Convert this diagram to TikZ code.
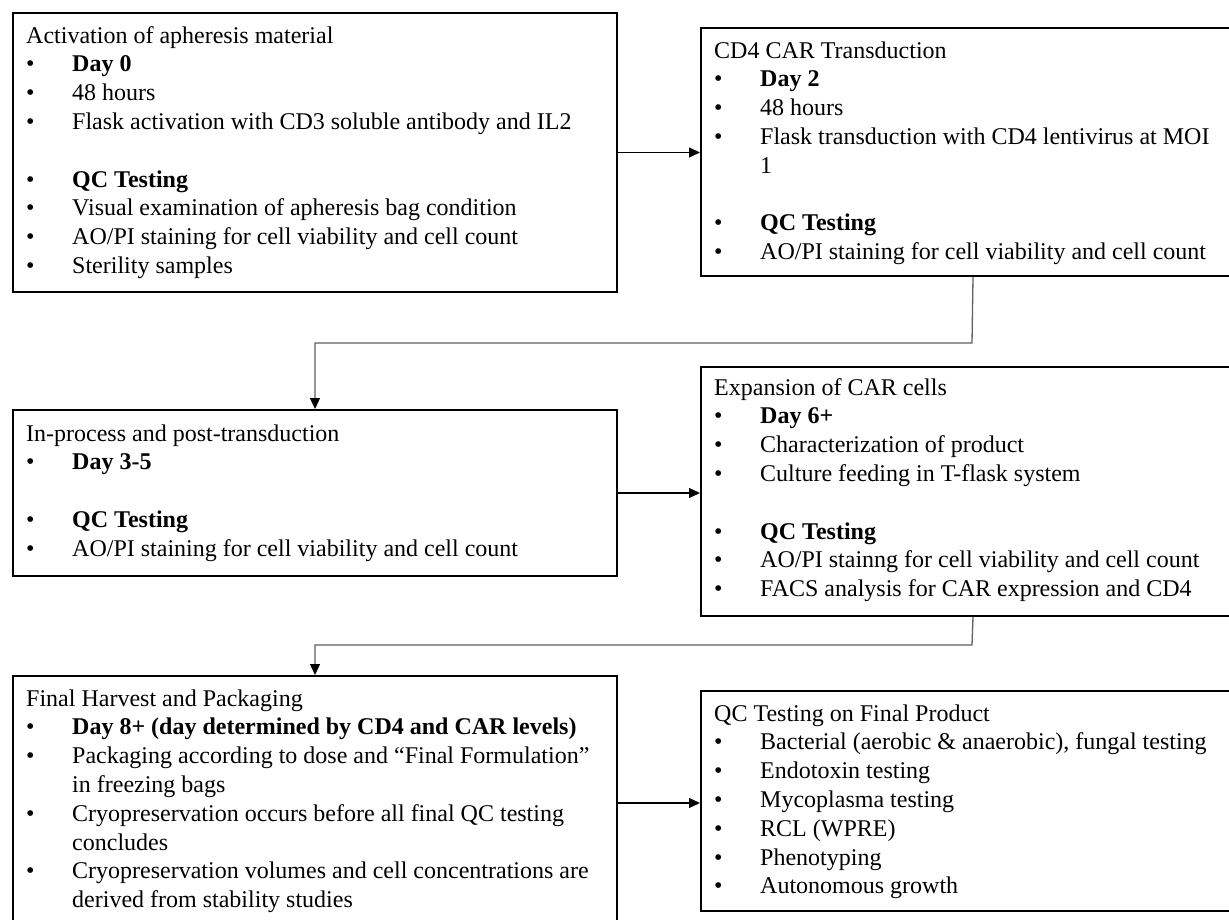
\documentclass[tikz,border=0pt]{standalone}
\usepackage{fontspec}
\setmainfont{Liberation Serif}
\usetikzlibrary{arrows.meta}
\newcommand{\bitem}[1]{\makebox[46pt][l]{\textbullet}#1\strut}
\newcommand{\citem}[1]{\hspace*{46pt}#1\strut}
\newcommand{\ttl}[1]{#1\strut}
\begin{document}
\begin{tikzpicture}[x=1pt,y=-1pt,
  box/.style={draw=black, line width=2pt, rectangle, inner sep=0pt, anchor=north west},
  txt/.style={anchor=north west, inner sep=0pt, align=left, font=\fontsize{24}{28.8}\selectfont},
  arr/.style={draw=black, line width=1.3pt, -{Triangle[length=11pt,width=10pt]}},
  garr/.style={draw=gray!75!black, line width=1.3pt, -{Triangle[length=11pt,width=10pt,color=black]}}]
\fill[white] (0,0) rectangle (1229,920);
\useasboundingbox (0,0) rectangle (1229,920);

% boxes
\node[box, minimum width=604pt, minimum height=279pt] (b1) at (12,12) {};
\node[box, minimum width=544pt, minimum height=248pt] (b2) at (700,27) {};
\node[box, minimum width=604pt, minimum height=166pt] (b3) at (12,409) {};
\node[box, minimum width=544pt, minimum height=249pt] (b4) at (700,366) {};
\node[box, minimum width=604pt, minimum height=254pt] (b5) at (12,675) {};
\node[box, minimum width=544pt, minimum height=220pt] (b6) at (700,690) {};

% texts
\node[txt] (t1) at (26,22.8) {\ttl{Activation of apheresis material}\\
\bitem{\textbf{Day 0}}\\
\bitem{48 hours}\\
\bitem{Flask activation with CD3 soluble antibody and IL2}\\
\strut\\
\bitem{\textbf{QC Testing}}\\
\bitem{Visual examination of apheresis bag condition}\\
\bitem{AO/PI staining for cell viability and cell count}\\
\bitem{Sterility samples}};

\node[txt] (t2) at (714,37.8) {\ttl{CD4 CAR Transduction}\\
\bitem{\textbf{Day 2}}\\
\bitem{48 hours}\\
\bitem{Flask transduction with CD4 lentivirus at MOI}\\
\citem{1}\\
\strut\\
\bitem{\textbf{QC Testing}}\\
\bitem{AO/PI staining for cell viability and cell count}};

\node[txt] (t3) at (26,420.8) {\ttl{In-process and post-transduction}\\
\bitem{\textbf{Day 3-5}}\\
\strut\\
\bitem{\textbf{QC Testing}}\\
\bitem{AO/PI staining for cell viability and cell count}};

\node[txt] (t4) at (714,374.8) {\ttl{Expansion of CAR cells}\\
\bitem{\textbf{Day 6+}}\\
\bitem{Characterization of product}\\
\bitem{Culture feeding in T-flask system}\\
\strut\\
\bitem{\textbf{QC Testing}}\\
\bitem{AO/PI stainng for cell viability and cell count}\\
\bitem{FACS analysis for CAR expression and CD4}};

\node[txt] (t5) at (26,685.8) {\ttl{Final Harvest and Packaging}\\
\bitem{\textbf{Day 8+ (day determined by CD4 and CAR levels)}}\\
\bitem{Packaging according to dose and “Final Formulation”}\\
\citem{in freezing bags}\\
\bitem{Cryopreservation occurs before all final QC testing}\\
\citem{concludes}\\
\bitem{Cryopreservation volumes and cell concentrations are}\\
\citem{derived from stability studies}};

\node[txt] (t6) at (714,700.8) {\ttl{QC Testing on Final Product}\\
\bitem{Bacterial (aerobic \& anaerobic), fungal testing}\\
\bitem{Endotoxin testing}\\
\bitem{Mycoplasma testing}\\
\bitem{RCL (WPRE)}\\
\bitem{Phenotyping}\\
\bitem{Autonomous growth}};

% connectors
\coordinate (m1) at (972,343);
\coordinate (m2) at (972,645);
\draw[arr] (b1.east) -- (b1.east -| b2.west);
\draw[garr] (b2.south) -- (m1) -| (b3.north);
\draw[arr] (b3.east) -- (b3.east -| b4.west);
\draw[garr] (b4.south) -- (m2) -| (b5.north);
\draw[arr] (b5.east) -- (b5.east -| b6.west);
\end{tikzpicture}
\end{document}
